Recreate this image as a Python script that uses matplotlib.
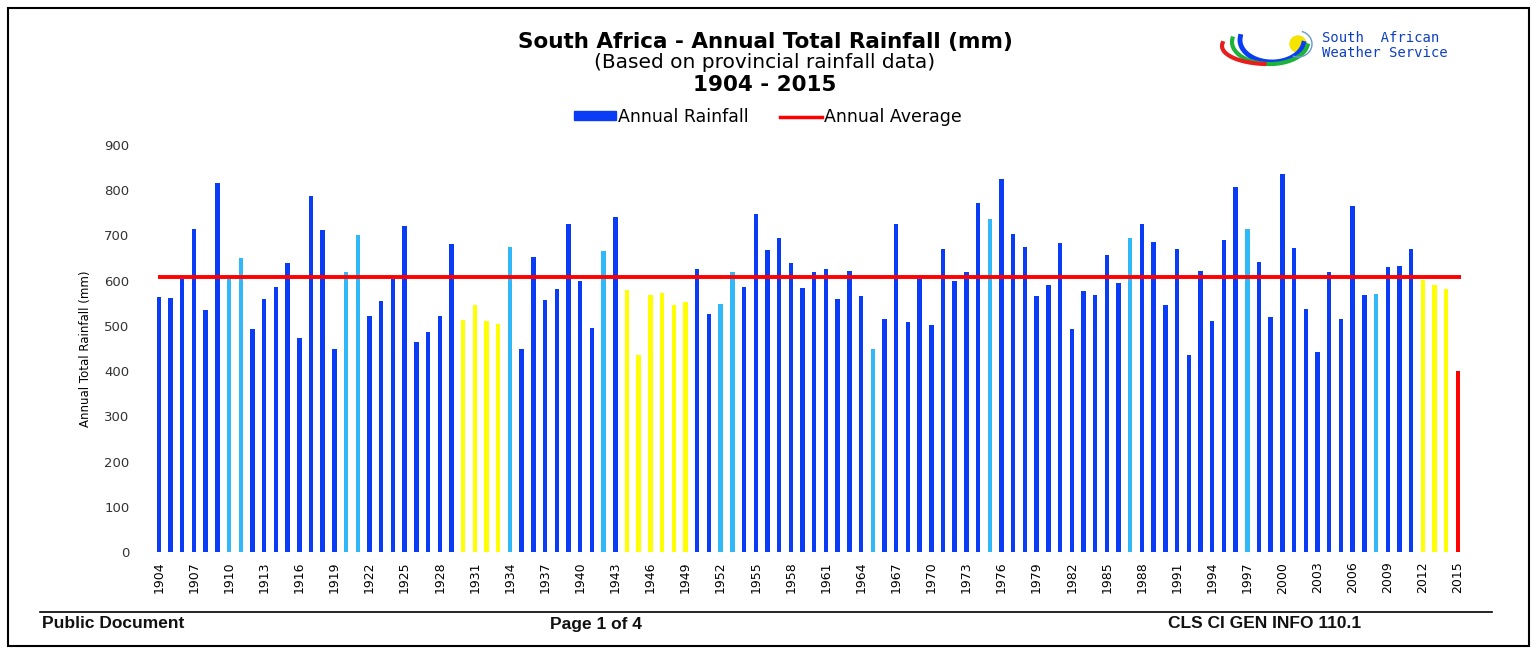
import matplotlib
matplotlib.use('agg')
import matplotlib.pyplot as plt
import matplotlib.patches as mpatches
from matplotlib.lines import Line2D
import numpy as np

# Annual total rainfall (mm), 1904 - 2015
years = list(range(1904, 2016))
rainfall = [
    563, 561, 604, 714, 535, 817, 604, 650, 493, 559,   # 1904-1913
    585, 639, 473, 788, 712, 449, 620, 700, 522, 556,   # 1914-1923
    604, 720, 465, 486, 522, 681, 513, 547, 510, 504,   # 1924-1933
    674, 448, 653, 557, 581, 725, 600, 495, 665, 740,   # 1934-1943
    580, 435, 568, 572, 547, 553, 625, 527, 548, 620,   # 1944-1953
    587, 748, 668, 695, 639, 584, 619, 625, 559, 622,   # 1954-1963
    566, 449, 515, 725, 508, 604, 501, 670, 600, 620,   # 1964-1973
    771, 736, 825, 704, 675, 566, 591, 684, 493, 577,   # 1974-1983
    568, 656, 594, 695, 725, 686, 546, 669, 436, 622,   # 1984-1993
    510, 689, 807, 715, 641, 519, 835, 673, 538, 443,   # 1994-2003
    620, 515, 765, 569, 571, 630, 632, 670, 601, 591,   # 2004-2013
    581, 401,                                           # 2014-2015
]
# bar class per year: b = blue, l = light blue, y = yellow, r = red (latest year)
bar_class = list(
    'bbbbbbllbb'
    'bbbbbbllbb'
    'bbbbbbyyyy'
    'lbbbbbbblb'
    'yyyyyybbll'
    'bbbbbbbbbb'
    'blbbbbbbbb'
    'blbbbbbbbb'
    'bbblbbbbbb'
    'bbblbbbbbb'
    'bbbblbbbyy'
    'yr'
)
annual_average = 608
tick_years = years[::3]

colour_map = {'b': '#0A3CF5', 'l': '#30B8F8', 'y': '#FFFF00', 'r': '#FF0000'}
colours = [colour_map[c] for c in bar_class]

W, H = 1534, 649
fig = plt.figure(figsize=(W / 100, H / 100), dpi=100)

# plot area in pixel terms of the reference
left, right, top, bottom = 153, 1465, 145, 552
ax = fig.add_axes([left / W, 1 - bottom / H, (right - left) / W, (bottom - top) / H])

x = np.arange(len(years))
ax.bar(x, rainfall, width=0.38, color=colours, zorder=2)
ax.hlines(annual_average, -0.1, len(years) - 0.7, color='#FF0000', linewidth=2.8, zorder=3)

ax.set_xlim(-0.5, len(years) - 0.4)
ax.set_ylim(0, 900)
ax.set_yticks(range(0, 901, 100))
ax.set_yticklabels([str(v) for v in range(0, 901, 100)], fontsize=9.5, color='#333333')
ax.set_xticks([years.index(y) for y in tick_years])
ax.set_xticklabels([str(y) for y in tick_years], rotation=90, fontsize=9)
ax.tick_params(axis='both', length=0)
ax.tick_params(axis='y', pad=17)
ax.tick_params(axis='x', pad=7)
for s in ax.spines.values():
    s.set_visible(False)
ax.set_ylabel('Annual Total Rainfall (mm)', fontsize=8.5, labelpad=9)

# titles
fig.text(765 / W, 1 - 42 / H, 'South Africa - Annual Total Rainfall (mm)',
         ha='center', va='center', fontsize=15.5, fontweight='bold')
fig.text(765 / W, 1 - 63 / H, '(Based on provincial rainfall data)',
         ha='center', va='center', fontsize=14.5)
fig.text(765 / W, 1 - 85 / H, '1904 - 2015',
         ha='center', va='center', fontsize=15.5, fontweight='bold')

# legend
handles = [mpatches.Patch(color='#0A3CF5'),
           Line2D([0], [0], color='#FF0000', linewidth=2.5)]
fig.legend(handles, ['Annual Rainfall', 'Annual Average'], loc='center',
           bbox_to_anchor=(768 / W, 1 - 117 / H), ncol=2, frameon=False,
           fontsize=12.5, handlelength=2.4, handleheight=0.45, columnspacing=1.8,
           handletextpad=0.15)

# simple logo
lax = fig.add_axes([1220 / W, 1 - 80 / H, 98 / W, 52 / H])
lax.set_xlim(0, 98)
lax.set_ylim(0, 52)
lax.axis('off')
t = np.linspace(np.pi * 0.95, np.pi * 1.95, 60)
lax.plot(52 + 32 * np.cos(t), 40 + 22 * np.sin(t), color='#0A3CF5', linewidth=3.5)
lax.plot(50 + 38 * np.cos(t), 38 + 22 * np.sin(t), color='#1DB33A', linewidth=3)
lax.plot(48 + 46 * np.cos(t[:32]), 34 + 18 * np.sin(t[:32]), color='#E81E1E', linewidth=3)
lax.add_patch(mpatches.Circle((78, 36), 8, color='#F5E400'))
lax.plot(78 + 14 * np.cos(t + 1.4), 36 + 13 * np.sin(t + 1.4), color='#6699CC', linewidth=1)
fig.text(1322 / W, 1 - 38 / H, 'South  African', ha='left', va='center',
         fontsize=10, color='#1040C0', family='DejaVu Sans Mono')
fig.text(1322 / W, 1 - 53 / H, 'Weather Service', ha='left', va='center',
         fontsize=10, color='#1040C0', family='DejaVu Sans Mono')

# footer
fig.add_artist(Line2D([40 / W, 1492 / W], [1 - 612 / H, 1 - 612 / H],
                      color='black', linewidth=1.2))
footer_font = dict(va='center', fontsize=12.5, fontweight='bold', color='#111111',
                   family=['Liberation Sans', 'DejaVu Sans'])
fig.text(42 / W, 1 - 624 / H, 'Public Document', ha='left', **footer_font)
fig.text(550 / W, 1 - 624 / H, 'Page 1 of 4', ha='left', **footer_font)
fig.text(1168 / W, 1 - 624 / H, 'CLS CI GEN INFO 110.1', ha='left', **footer_font)

# page frame
fig.add_artist(mpatches.Rectangle((8 / W, 1 - 646 / H), 1521 / W, 638 / H,
                                  fill=False, edgecolor='black', linewidth=1.5))

fig.savefig('out.png', dpi=100)
